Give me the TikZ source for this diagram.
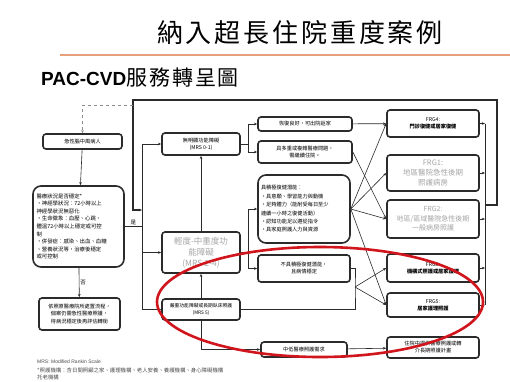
\documentclass[tikz,border=0pt]{standalone}
\usepackage{fontspec}
\setmainfont{Liberation Sans}
\newfontfamily\cjk{Noto Sans CJK TC}
\newfontfamily\cjktitle[LetterSpace=11]{Noto Sans CJK TC}
\newfontfamily\cjksub[LetterSpace=9]{Noto Sans CJK TC}
\usetikzlibrary{arrows.meta}
\definecolor{rulecol}{HTML}{E8A07A}
\definecolor{inkcol}{HTML}{2B2B2B}
\definecolor{markcol}{HTML}{D0161C}

\begin{document}
\begin{tikzpicture}[x=1pt,y=-1pt,
  >={Stealth[length=3.2pt,width=2.6pt]},
  box/.style={draw=inkcol, line width=1.6pt, rounded corners=3pt, align=center,
    inner sep=0.5pt, font=\cjk\fontsize{5.2}{7}\selectfont},
  dim/.style={text=black!35},
  conn/.style={draw=inkcol, line width=0.6pt},
  lbl/.style={font=\cjk\fontsize{5.5}{6}\selectfont, inner sep=1pt}]
\useasboundingbox[fill=white] (0,0) rectangle (510,381);

% heading
\node [font=\cjktitle\fontsize{26}{26}\selectfont] (title) at (300,33) {納入超長住院重度案例};
\draw [rulecol, line width=1.2pt] (60,55) -- (510,55);
\node [anchor=west, inner sep=0] (sub) at (41,78) {\fontsize{19}{19}\selectfont\bfseries PAC-CVD\mdseries\cjksub\fontsize{21}{21}\selectfont 服務轉呈圖};

% left column
\node [box, minimum width=79, minimum height=15] (stroke) at (82.5,141.5) {急性腦中風病人};
\node [box, rounded corners=8pt, minimum width=91, minimum height=81, text width=84pt, align=left,
  font=\cjk\fontsize{5.4}{7.6}\selectfont] (stable) at (78.5,226.5)
  {醫療狀況是否穩定*\\•神經學狀況：72小時以上\\神經學狀況無惡化\\•生命徵象：血壓、心跳、\\體溫72小時以上穩定或可控\\制\\•併發症：感染、出血、血糖\\、營養狀況等，治療後穩定\\或可控制};
\node [box, minimum width=81, minimum height=32, font=\cjk\fontsize{5.2}{7.5}\selectfont] (keep) at (79.5,314)
  {依照原醫療院所處置流程，\\個案仍需急性醫療照護，\\待病況穩定後再評估轉銜};

% MRS column
\node [box, minimum width=78, minimum height=22] (mrs01) at (201,144) {無明顯功能障礙\\(MRS 0-1)};
\node [box, dim, minimum width=78, minimum height=41, font=\cjk\fontsize{8.5}{11}\selectfont] (mrs24) at (201,252.5)
  {輕度-中重度功\\能障礙\\(MRS 2-4)};
\node [box, minimum width=78, minimum height=21, font=\cjk\fontsize{4.8}{6.5}\selectfont] (mrs5) at (201,309.5)
  {嚴重功能障礙或長期臥床照護\\(MRS 5)};

% middle column
\node [box, minimum width=94, minimum height=14] (home) at (305,124) {恢復良好，可出院返家};
\node [box, minimum width=94, minimum height=22] (complex) at (305,152) {具多重或複雜醫療問題，\\需繼續住院。};
\node [box, rounded corners=8pt, minimum width=92, minimum height=68, text width=86pt, align=left,
  font=\cjk\fontsize{5.2}{8.4}\selectfont] (rehab) at (304,209)
  {具積極復健潛能：\\•具意願、學習能力與動機\\•足夠體力（能耐受每日至少\\連續一小時之復健活動）\\•認知功能足以遵從指令\\•具家庭照護人力與資源};
\node [box, minimum width=92, minimum height=27] (norehab) at (304,268.5) {不具積極復健潛能，\\且病情穩定};
\node [box, minimum width=86, minimum height=15] (midcare) at (304,349.5) {中低醫療照護需求};

% FRG column
\node [box, minimum width=92, minimum height=27] (frg4) at (433,123.5)
  {FRG4:\\\textbf{門診復健或居家復健}};
\node [box, dim, minimum width=92, minimum height=36, font=\cjk\fontsize{7.5}{10}\selectfont] (frg1) at (433,173)
  {FRG1:\\地區醫院急性後期\\照護病房};
\node [box, dim, minimum width=92, minimum height=38, font=\cjk\fontsize{7}{9.5}\selectfont] (frg2) at (433,219)
  {FRG2:\\地區/區域醫院急性後期\\一般病房照護};
\node [box, minimum width=92, minimum height=28] (frg3) at (433,268)
  {FRG3:\\\textbf{機構式照護或居家護理}};
\node [box, minimum width=92, minimum height=24] (frg5) at (433,305)
  {FRG5:\\\textbf{居家護理照護}};
\node [box, minimum width=92, minimum height=21] (ltc) at (433,347.5)
  {住院中提供醫療照護或轉\\介長期照護計畫};

% junctions
\coordinate (busT) at (142,144);
\coordinate (busB) at (142,309.5);
\coordinate (busIn) at (142,210);
\coordinate (loopL) at (133,100);
\coordinate (loopR) at (497,100);
\coordinate (loopC) at (497,205);
\coordinate (rbusT) at (485,123.5);
\coordinate (rbusB) at (485,305);
\coordinate (dashR) at (133,105);
\coordinate (s1) at (248,144);
\coordinate (s2) at (248,252.5);
\coordinate (jB) at (355,287);

% connectors
\draw [conn, ->] (stroke) -- (stable);
\draw [conn, ->] (stable) -- (keep) node [midway, right, lbl] {否};
\draw [conn] (stable) -- (stable -| busT) node [midway, above, lbl] {是};
\draw [conn] (busT) -- (busB);
\draw [conn, ->] (busT) -- (mrs01);
\draw [conn, ->] (busB |- mrs24) -- (mrs24);
\draw [conn, ->] (busB) -- (mrs5);
\draw [conn, ->] (mrs24) -- (mrs01);
\draw [conn, ->] (mrs5) -- (mrs24);
\draw [conn, ->] (mrs5) |- (midcare);
\draw [conn] (mrs01) -- (s1);
\draw [conn, ->] (s1) |- (home);
\draw [conn, ->] (s1) |- (complex);
\draw [conn] (mrs24) -- (s2);
\draw [conn, ->] (s2) |- (rehab);
\draw [conn, ->] (s2) |- (norehab);
\draw [conn] (norehab) -| (jB) |- (mrs5);
\draw [conn, ->] (home) -- (frg4);
\draw [conn, ->] (complex.east) -- (frg2.west);
\draw [conn, ->] (rehab.east) -- (frg4.west);
\draw [conn, ->] (rehab.east) -- (frg1.west);
\draw [conn, ->] (rehab.east) -- (frg2.west);
\draw [conn, ->] (rehab.east) -- (frg5.west);
\draw [conn, ->] (jB) -- (frg3.west);
\draw [conn, ->] (jB) -- (frg5.west);
\draw [conn, ->] (midcare) -- (ltc);
\draw [conn] (rbusT) -- (rbusB);
\foreach \n in {frg4,frg1,frg2,frg3,frg5}
  \draw [conn, ->] (\n) -- (\n -| rbusT);
\draw [conn, line width=1.1pt, ->] (rbusT |- loopC) -- (loopC) -- (loopR) -- (loopL) -- (loopL |- busIn) -- (busIn);
\draw [conn, dashed, draw=black!45, ->] (dashR) -- (dashR -| stroke) -- (stroke);

% notes
\node [anchor=west, inner sep=0, text=black!70, font=\fontsize{5}{6}\selectfont] (note1) at (37,362) {MRS: Modified Rankin Scale};
\node [anchor=west, inner sep=0, text=black!70, font=\cjk\fontsize{5.4}{6}\selectfont] (note2) at (37,370)
  {*照護機構：含日間照顧之家、護理機構、老人安養、養護機構、身心障礙機構};
\node [anchor=west, inner sep=0, text=black!70, font=\cjk\fontsize{5.4}{6}\selectfont] (note3) at (37,377.5) {托老機構};

% red mark
\draw [markcol, line width=2.6pt] (320,302) ellipse [x radius=163, y radius=55];
\end{tikzpicture}
\end{document}
